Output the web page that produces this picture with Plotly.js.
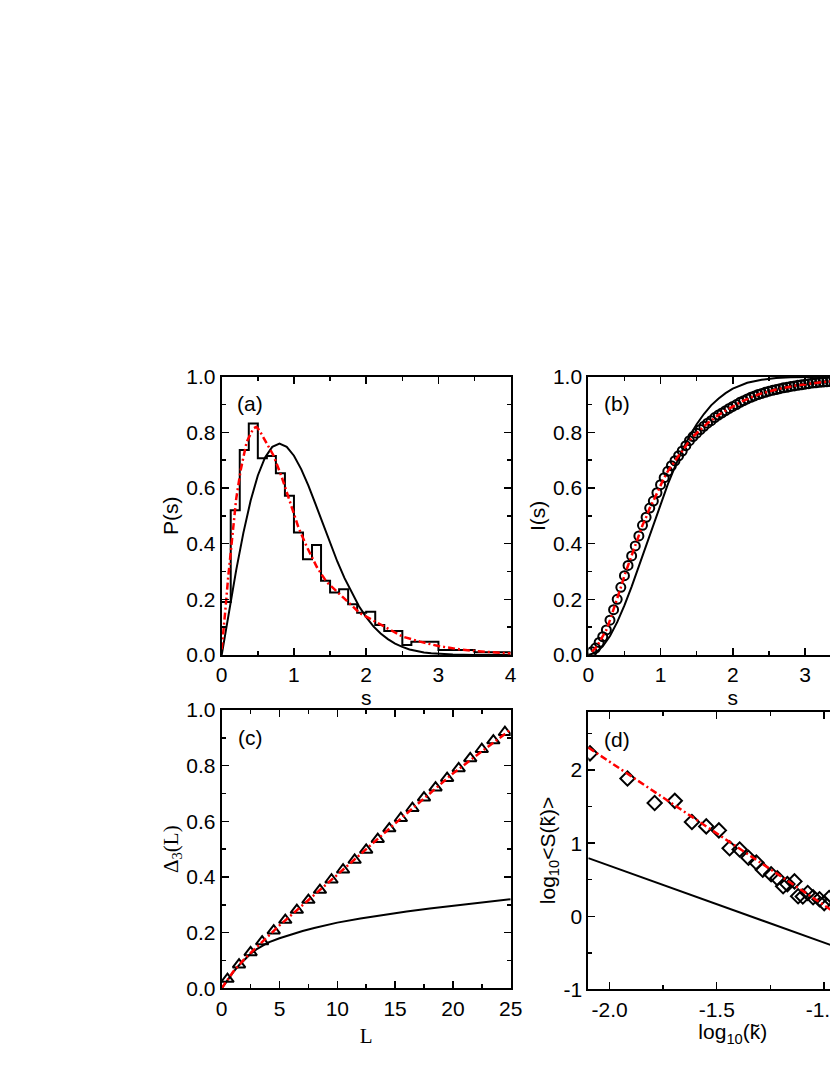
<!DOCTYPE html>
<html>
<head>
<meta charset="utf-8">
<script src="https://cdn.plot.ly/plotly-3.0.1.min.js"></script>
<style>
html,body{margin:0;padding:0;overflow:hidden;background:#fff;}
#chart{width:960px;height:1075px;}
</style>
</head>
<body>
<div id="chart"></div>
<script>
// ---------- Panel (a): P(s) ----------
const histEdges = [0, 0.125, 0.25, 0.375, 0.5, 0.625, 0.75, 0.875, 1.0, 1.125, 1.25, 1.375, 1.5, 1.625, 1.75, 1.875, 2.0, 2.125, 2.25, 2.5, 2.625, 3.0, 3.5, 4.0];
const histHeights = [0.19, 0.52, 0.737, 0.832, 0.707, 0.715, 0.653, 0.572, 0.44, 0.344, 0.395, 0.267, 0.225, 0.236, 0.182, 0.152, 0.155, 0.108, 0.086, 0.036, 0.048, 0.018, 0.01];
const fitA_s = [0, 0.02, 0.05, 0.09, 0.14, 0.2, 0.263, 0.346, 0.438, 0.48, 0.52, 0.6, 0.715, 0.83, 0.946, 1.06, 1.176, 1.315, 1.45, 1.57, 1.71, 1.82, 1.914, 2.0, 2.13, 2.26, 2.505, 2.745, 3.0, 3.3, 3.506, 3.967, 4.0];
const fitA_P = [0.02, 0.07, 0.16, 0.28, 0.42, 0.56, 0.665, 0.766, 0.814, 0.82, 0.808, 0.772, 0.718, 0.64, 0.545, 0.46, 0.39, 0.317, 0.263, 0.233, 0.198, 0.174, 0.15, 0.138, 0.12, 0.102, 0.066, 0.048, 0.032, 0.02, 0.014, 0.006, 0.006];
const goeA_s = [0, 0.1, 0.2, 0.3, 0.4, 0.5, 0.6, 0.7, 0.8, 0.9, 1.0, 1.1, 1.2, 1.3, 1.4, 1.5, 1.6, 1.7, 1.8, 1.9, 2.0, 2.1, 2.2, 2.3, 2.4, 2.5, 2.6, 2.7, 2.8, 2.9, 3.0, 3.2, 3.5, 4.0];
const goeA_P = [0, 0.156, 0.304, 0.439, 0.554, 0.645, 0.71, 0.748, 0.76, 0.748, 0.716, 0.668, 0.609, 0.541, 0.471, 0.402, 0.336, 0.276, 0.223, 0.175, 0.136, 0.103, 0.077, 0.057, 0.041, 0.029, 0.02, 0.014, 0.009, 0.006, 0.004, 0.002, 0.0004, 0];

// ---------- Panel (b): I(s) ----------
const cumB_s = [0.05, 0.1, 0.15, 0.2, 0.25, 0.3, 0.35, 0.4, 0.45, 0.5, 0.55, 0.6, 0.65, 0.7, 0.75, 0.8, 0.85, 0.9, 0.95, 1.0, 1.05, 1.1, 1.15, 1.2, 1.25, 1.3, 1.35, 1.4, 1.45, 1.5, 1.55, 1.6, 1.65, 1.7, 1.75, 1.8, 1.85, 1.9, 1.95, 2.0, 2.05, 2.1, 2.15, 2.2, 2.25, 2.3, 2.35, 2.4, 2.45, 2.5, 2.55, 2.6, 2.65, 2.7, 2.75, 2.8, 2.85, 2.9, 2.95, 3.0, 3.05, 3.1, 3.15, 3.2, 3.25, 3.3, 3.35, 3.4, 3.45, 3.5, 3.6, 3.7, 3.8, 3.9, 4.0];
const cumB_I = [0.012, 0.025, 0.045, 0.066, 0.09, 0.125, 0.163, 0.2, 0.243, 0.285, 0.322, 0.356, 0.392, 0.428, 0.466, 0.495, 0.528, 0.553, 0.583, 0.612, 0.637, 0.66, 0.68, 0.698, 0.716, 0.733, 0.752, 0.77, 0.785, 0.797, 0.81, 0.822, 0.833, 0.842, 0.853, 0.862, 0.87, 0.878, 0.886, 0.893, 0.9, 0.908, 0.914, 0.92, 0.926, 0.931, 0.936, 0.94, 0.944, 0.948, 0.951, 0.954, 0.957, 0.96, 0.962, 0.965, 0.967, 0.969, 0.971, 0.973, 0.975, 0.977, 0.978, 0.98, 0.981, 0.982, 0.983, 0.984, 0.985, 0.986, 0.987, 0.988, 0.989, 0.99, 0.991];
const goeB_s = [0, 0.1, 0.2, 0.3, 0.4, 0.5, 0.6, 0.7, 0.8, 0.9, 1.0, 1.1, 1.2, 1.3, 1.4, 1.5, 1.6, 1.7, 1.8, 1.9, 2.0, 2.2, 2.4, 2.6, 2.8, 3.0, 3.5, 4.0];
const goeB_I = [0, 0.008, 0.031, 0.068, 0.118, 0.178, 0.246, 0.319, 0.395, 0.471, 0.544, 0.613, 0.677, 0.735, 0.786, 0.829, 0.866, 0.897, 0.921, 0.941, 0.957, 0.978, 0.989, 0.995, 0.998, 0.999, 1.0, 1.0];

// ---------- Panel (c): Delta_3(L) ----------
const triC_L = [0.5, 1.5, 2.5, 3.5, 4.5, 5.5, 6.5, 7.5, 8.5, 9.5, 10.5, 11.5, 12.5, 13.5, 14.5, 15.5, 16.5, 17.5, 18.5, 19.5, 20.5, 21.5, 22.5, 23.5, 24.5];
const triC_D = [0.033, 0.085, 0.129, 0.168, 0.207, 0.245, 0.281, 0.317, 0.353, 0.39, 0.426, 0.461, 0.497, 0.536, 0.574, 0.611, 0.647, 0.685, 0.721, 0.755, 0.79, 0.826, 0.859, 0.89, 0.92];
const fitC_L = [0, 1, 2, 5, 10, 15, 20, 25];
const fitC_D = [0, 0.06, 0.107, 0.226, 0.408, 0.592, 0.772, 0.93];
const goeC_L = [0, 0.5, 1, 1.5, 2, 2.5, 3, 3.5, 4, 5, 6, 7, 8, 9, 10, 12, 14, 16, 18, 20, 22, 24, 25];
const goeC_D = [0, 0.03, 0.058, 0.083, 0.105, 0.124, 0.14, 0.153, 0.164, 0.18, 0.194, 0.206, 0.217, 0.227, 0.236, 0.251, 0.264, 0.276, 0.287, 0.297, 0.306, 0.315, 0.32];

// ---------- Panel (d): log10 <S(k)> ----------
const diaD_k = [-2.092, -1.917, -1.79, -1.696, -1.616, -1.549, -1.49, -1.44, -1.393, -1.352, -1.315, -1.285, -1.246, -1.217, -1.19, -1.17, -1.137, -1.12, -1.098, -1.075, -1.05, -1.02, -0.998, -0.975];
const diaD_S = [2.23, 1.886, 1.55, 1.58, 1.29, 1.23, 1.175, 0.93, 0.914, 0.8, 0.735, 0.637, 0.575, 0.52, 0.41, 0.44, 0.477, 0.273, 0.27, 0.318, 0.26, 0.232, 0.18, 0.25];
const fitD_k = [-2.1, -0.75];
const fitD_S = [2.31, -0.336];
const goeD_k = [-2.1, -0.75];
const goeD_S = [0.795, -0.622];

// ---------- tick labels ----------
const ticksA_x = [0, 1, 2, 3, 4];
const ticksA_y = [0, 0.2, 0.4, 0.6, 0.8, 1.0];
const tickTextA_y = ['0.0', '0.2', '0.4', '0.6', '0.8', '1.0'];
const ticksC_x = [0, 5, 10, 15, 20, 25];
const ticksD_x = [-2.0, -1.5, -1.0];
const tickTextD_x = ['-2.0', '-1.5', '-1.0'];
const ticksD_y = [-1, 0, 1, 2];
const tickTextD_y = ['-1', '0', '1', '2'];
const panelLabels = ['(a)', '(b)', '(c)', '(d)'];

// ---------- layout helpers ----------
const W = 960, H = 1075;
const SANS = 'Liberation Sans, Arial, sans-serif';
const SERIF = 'Liberation Serif, Times New Roman, serif';
const RED = '#ff0000';
const DASHDOT = '7px,3px,2px,3px';
function xd(p0, p1) { return [p0 / W, p1 / W]; }
function yd(top, bottom) { return [1 - bottom / H, 1 - top / H]; }
function axis(o) {
  const base = {
    showline: true, linecolor: 'black', linewidth: 2, mirror: 'allticks',
    ticks: 'inside', ticklen: 7, tickwidth: 1.5, tickcolor: 'black',
    showgrid: false, zeroline: false, automargin: false,
    tickfont: {family: SANS, size: 21, color: 'black'}
  };
  const r = Object.assign(base, o);
  r.minor = Object.assign({ticks: 'inside', ticklen: 4, tickwidth: 1.5, tickcolor: 'black', showgrid: false}, o.minor || {});
  return r;
}

const hx = histEdges.slice();
const hy = histHeights.concat([histHeights[histHeights.length - 1]]);

const traces = [
  // (a)
  {x: goeA_s, y: goeA_P, xaxis: 'x', yaxis: 'y', mode: 'lines', line: {color: 'black', width: 2}},
  {x: hx, y: hy, xaxis: 'x', yaxis: 'y', mode: 'lines', line: {color: 'black', width: 2, shape: 'hv'}},
  {x: fitA_s, y: fitA_P, xaxis: 'x', yaxis: 'y', mode: 'lines', line: {color: RED, width: 2.5, dash: DASHDOT}},
  // (b)
  {x: goeB_s, y: goeB_I, xaxis: 'x2', yaxis: 'y2', mode: 'lines', line: {color: 'black', width: 2}},
  {x: cumB_s, y: cumB_I, xaxis: 'x2', yaxis: 'y2', mode: 'markers', marker: {symbol: 'circle-open', size: 9, color: 'black', line: {width: 2, color: 'black'}}},
  {x: cumB_s, y: cumB_I, xaxis: 'x2', yaxis: 'y2', mode: 'lines', line: {color: RED, width: 2.5, dash: DASHDOT}},
  // (c)
  {x: goeC_L, y: goeC_D, xaxis: 'x3', yaxis: 'y3', mode: 'lines', line: {color: 'black', width: 2}},
  {x: triC_L, y: triC_D, xaxis: 'x3', yaxis: 'y3', mode: 'markers', marker: {symbol: 'triangle-up-open', size: 11, color: 'black', line: {width: 2, color: 'black'}}},
  {x: fitC_L, y: fitC_D, xaxis: 'x3', yaxis: 'y3', mode: 'lines', line: {color: RED, width: 2.5, dash: DASHDOT}},
  // (d)
  {x: goeD_k, y: goeD_S, xaxis: 'x4', yaxis: 'y4', mode: 'lines', line: {color: 'black', width: 2}},
  {x: diaD_k, y: diaD_S, xaxis: 'x4', yaxis: 'y4', mode: 'markers', marker: {symbol: 'diamond-open', size: 11, color: 'black', line: {width: 2, color: 'black'}}},
  {x: fitD_k, y: fitD_S, xaxis: 'x4', yaxis: 'y4', mode: 'lines', line: {color: RED, width: 2.5, dash: DASHDOT}}
];

const domAx = xd(221.7, 510.7), domBx = xd(588.3, 877.3);
const domTop = yd(376.7, 655), domBot = yd(710, 988.3), domBotD = yd(711.7, 989.3);

const sTitle = (txt, fam, so) => ({text: txt, font: {family: fam, size: 21, color: 'black'}, standoff: so});

const layout = {
  width: W, height: H, margin: {l: 0, r: 0, t: 0, b: 0},
  paper_bgcolor: 'white', plot_bgcolor: 'white', showlegend: false,
  xaxis: axis({domain: domAx, anchor: 'y', range: [0, 4], tickvals: ticksA_x, minor: {dtick: 0.5}, title: sTitle('s', SANS, 0)}),
  yaxis: axis({domain: domTop, anchor: 'x', range: [0, 1], tickvals: ticksA_y, ticktext: tickTextA_y, minor: {dtick: 0.1}, title: sTitle('P(s)', SANS, 2)}),
  xaxis2: axis({domain: domBx, anchor: 'y2', range: [0, 4], tickvals: ticksA_x, minor: {dtick: 0.5}, title: sTitle('s', SANS, 0)}),
  yaxis2: axis({domain: domTop, anchor: 'x2', range: [0, 1], tickvals: ticksA_y, ticktext: tickTextA_y, minor: {dtick: 0.1}, title: sTitle('I(s)', SANS, 2)}),
  xaxis3: axis({domain: domAx, anchor: 'y3', range: [0, 25], tickvals: ticksC_x, minor: {dtick: 2.5}, title: sTitle('L', SERIF, 10)}),
  yaxis3: axis({domain: domBot, anchor: 'x3', range: [0, 1], tickvals: ticksA_y, ticktext: tickTextA_y, minor: {dtick: 0.1}, title: sTitle('Δ<sub>3</sub>(L)', SERIF, 2)}),
  xaxis4: axis({domain: domBx, anchor: 'y4', range: [-2.1, -0.75], tickvals: ticksD_x, ticktext: tickTextD_x, minor: {dtick: 0.25, tick0: -2}, title: sTitle('log<sub>10</sub>(k̃)', SANS, 4)}),
  yaxis4: axis({domain: domBotD, anchor: 'x4', range: [-1, 2.8], tickvals: ticksD_y, ticktext: tickTextD_y, minor: {dtick: 0.5, tick0: 0}, title: sTitle('log<sub>10</sub>&lt;S(k̃)&gt;', SANS, 2)}),
  annotations: [
    ['x', 'y'], ['x2', 'y2'], ['x3', 'y3'], ['x4', 'y4']
  ].map((r, i) => ({
    text: panelLabels[i], xref: r[0] + ' domain', yref: r[1] + ' domain',
    x: 0.099, y: i < 2 ? 0.902 : 0.9, xanchor: 'center', yanchor: 'middle', showarrow: false,
    font: {family: SANS, size: 21, color: 'black'}
  }))
};

Plotly.newPlot('chart', traces, layout, {staticPlot: true, displayModeBar: false});
</script>
</body>
</html>
